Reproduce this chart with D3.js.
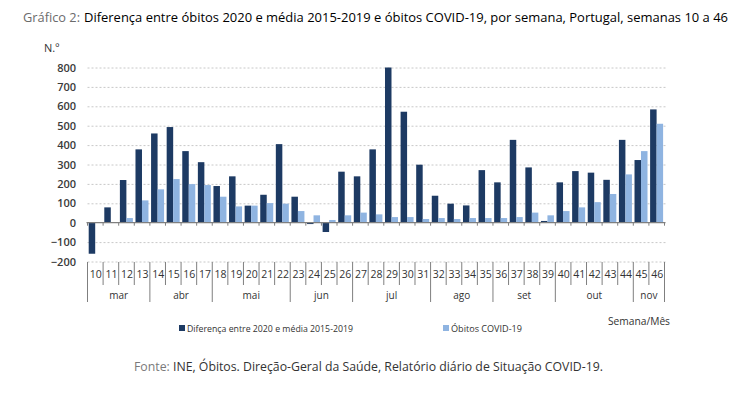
<!DOCTYPE html>
<html>
<head>
<meta charset="utf-8">
<script src="https://cdn.jsdelivr.net/npm/d3@7"></script>
<style>
  body { margin: 0; background: #fff; }
  text { font-family: "Open Sans", "Noto Sans", sans-serif; }
</style>
</head>
<body>
<svg id="chart" width="744" height="394"></svg>
<script>
// week numbers and values
const weeks = [10,11,12,13,14,15,16,17,18,19,20,21,22,23,24,25,26,27,28,29,30,31,32,33,34,35,36,37,38,39,40,41,42,43,44,45,46];
const diffValues = [-160,79,220,378,460,493,369,312,189,239,88,144,405,134,-7,-48,263,239,378,800,572,299,139,98,89,271,208,427,285,9,208,266,258,221,427,323,584];
const covidValues = [0,0,24,115,172,225,199,194,134,84,88,101,98,60,38,14,38,52,43,29,29,19,24,19,24,24,24,29,52,38,60,79,106,148,249,369,510];
const yTicks = [-200,-100,0,100,200,300,400,500,600,700,800];
const months = ["mar","abr","mai","jun","jul","ago","set","out","nov"];
const monthFirst = [10,14,18,23,27,32,36,40,45];
const monthLast = [13,17,22,26,31,35,39,44,46];
const seriesNames = ["Diferença entre 2020 e média 2015-2019", "Óbitos COVID-19"];
const seriesColors = ["#1d3a63", "#8fb4e1"];

const svg = d3.select("#chart");

const margin = { left: 87.5, right: 79.5, top: 67.5, bottom: 132.5 };
const width = 744, height = 394;

const x = d3.scaleBand()
  .domain(weeks)
  .range([margin.left, width - margin.right])
  .padding(0);

const inner = d3.scaleBand()
  .domain([0, 1])
  .range([1.2, x.bandwidth() - 1.4])
  .padding(0);

const y = d3.scaleLinear()
  .domain([-200, 800])
  .range([height - margin.bottom, margin.top]);

// gridlines
svg.append("g")
  .attr("transform", `translate(${margin.left},0)`)
  .call(d3.axisLeft(y).tickValues(yTicks.filter(d => d !== 0)).tickSize(-(x.range()[1] - margin.left + 1.5)).tickFormat(""))
  .call(g => g.select(".domain").remove())
  .call(g => g.selectAll("line")
    .attr("stroke", "#c8c8c8")
    .attr("stroke-dasharray", "2,2"));

// y labels
svg.append("g")
  .attr("transform", `translate(76,0)`)
  .call(d3.axisLeft(y).tickValues(yTicks).tickSize(0).tickPadding(0))
  .call(g => g.select(".domain").remove())
  .call(g => g.selectAll("text")
    .attr("fill", "#3a3a3a")
    .style("font-size", "11px")
    .style("font-weight", "600"));

// bars
const rows = weeks.map((w, i) => ({ week: w, vals: [diffValues[i], covidValues[i]] }));

svg.append("g")
  .selectAll("g")
  .data(rows)
  .join("g")
    .attr("transform", d => `translate(${x(d.week)},0)`)
  .selectAll("rect")
  .data(d => d.vals.map((v, k) => ({ k, v })))
  .join("rect")
    .attr("x", d => inner(d.k))
    .attr("width", inner.bandwidth())
    .attr("y", d => y(Math.max(0, d.v)))
    .attr("height", d => Math.abs(y(d.v) - y(0)))
    .attr("fill", d => seriesColors[d.k]);

// zero line with ticks at the category boundaries
const bounds = weeks.map(w => x(w)).concat([x(weeks[weeks.length - 1]) + x.bandwidth()]);
const zeroG = svg.append("g").attr("stroke", "#7f7f7f");
zeroG.append("line")
  .attr("x1", margin.left - 1).attr("x2", x.range()[1] + 1)
  .attr("y1", y(0)).attr("y2", y(0))
  .attr("stroke-width", 1.2);
zeroG.selectAll("line.tk")
  .data(bounds)
  .join("line")
    .attr("class", "tk")
    .attr("x1", d => d).attr("x2", d => d)
    .attr("y1", y(0)).attr("y2", y(0) + 3);

// category axis below the plot
const catTop = 262;
const weekBottom = 285;
const monthBottom = 302;
const sepG = svg.append("g").attr("stroke", "#7f7f7f");
sepG.selectAll("line")
  .data(bounds)
  .join("line")
    .attr("x1", d => d).attr("x2", d => d)
    .attr("y1", catTop)
    .attr("y2", (d, i) => (i === 0 || i === bounds.length - 1 || monthFirst.includes(weeks[i])) ? monthBottom : weekBottom);

svg.append("g")
  .selectAll("text")
  .data(weeks)
  .join("text")
    .attr("x", d => x(d) + x.bandwidth() / 2 + 0.5)
    .attr("y", 278)
    .attr("text-anchor", "middle")
    .attr("fill", "#333")
    .style("font-size", "10.5px")
    .text(d => d);

svg.append("g")
  .selectAll("text")
  .data(months)
  .join("text")
    .attr("x", (d, i) => (x(monthFirst[i]) + x(monthLast[i]) + x.bandwidth()) / 2)
    .attr("y", 299)
    .attr("text-anchor", "middle")
    .attr("fill", "#333")
    .style("font-size", "10px")
    .text(d => d);

// title
svg.append("text")
  .attr("x", 23).attr("y", 21.5)
  .attr("fill", "#6b6b6b")
  .attr("textLength", 57).attr("lengthAdjust", "spacingAndGlyphs")
  .style("font-size", "13px")
  .text("Gráfico 2:");
svg.append("text")
  .attr("x", 84).attr("y", 21.5)
  .attr("fill", "#000")
  .attr("textLength", 644).attr("lengthAdjust", "spacingAndGlyphs")
  .style("font-size", "13px")
  .style("font-weight", "500")
  .text("Diferença entre óbitos 2020 e média 2015-2019 e óbitos COVID-19, por semana, Portugal, semanas 10 a 46");

svg.append("text")
  .attr("x", 44).attr("y", 52)
  .attr("fill", "#333")
  .style("font-size", "11px")
  .text("N.º");

// legend
const legendX = [179, 443];
const legendLen = [166, 71];
const lg = svg.append("g")
  .selectAll("g")
  .data(seriesNames)
  .join("g")
    .attr("transform", (d, i) => `translate(${legendX[i]},325)`);
lg.append("rect")
  .attr("width", 6).attr("height", 6)
  .attr("fill", (d, i) => seriesColors[i]);
lg.append("text")
  .attr("x", 8).attr("y", 6.5)
  .attr("fill", "#333")
  .attr("textLength", (d, i) => legendLen[i]).attr("lengthAdjust", "spacingAndGlyphs")
  .style("font-size", "9.5px")
  .text(d => d);

svg.append("text")
  .attr("x", 608).attr("y", 325)
  .attr("fill", "#333")
  .attr("textLength", 62).attr("lengthAdjust", "spacingAndGlyphs")
  .style("font-size", "11px")
  .text("Semana/Mês");

// source, one text element with two coloured parts
const src = svg.append("text")
  .attr("x", 134).attr("y", 370.5)
  .attr("textLength", 469).attr("lengthAdjust", "spacingAndGlyphs")
  .style("font-size", "13px");
src.append("tspan")
  .attr("fill", "#7a7a7a")
  .text("Fonte: ");
src.append("tspan")
  .attr("fill", "#333")
  .text("INE, Óbitos. Direção-Geral da Saúde, Relatório diário de Situação COVID-19.");
</script>
</body>
</html>
